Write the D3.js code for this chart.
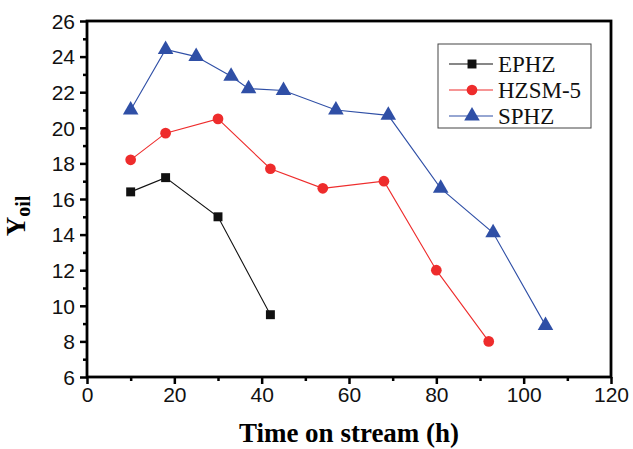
<!DOCTYPE html>
<html>
<head>
<meta charset="utf-8">
<script src="https://cdn.jsdelivr.net/npm/d3@7"></script>
<style>
  body { margin: 0; background: #fff; }
  .tick text { font-family: "Liberation Sans", Arial, sans-serif; font-size: 21px; fill: #111; }
</style>
</head>
<body>
<script>
// data
const seriesNames = ["EPHZ", "HZSM-5", "SPHZ"];
const timeEPHZ = [10, 18, 30, 42];
const yieldEPHZ = [16.4, 17.2, 15.0, 9.5];
const timeHZSM = [10, 18, 30, 42, 54, 68, 80, 92];
const yieldHZSM = [18.2, 19.7, 20.5, 17.7, 16.6, 17.0, 12.0, 8.0];
const timeSPHZ = [10, 18, 25, 33, 37, 45, 57, 69, 81, 93, 105];
const yieldSPHZ = [21.0, 24.4, 24.0, 22.9, 22.2, 22.1, 21.0, 20.7, 16.6, 14.1, 8.9];
const xTicks = [0, 20, 40, 60, 80, 100, 120];
const yTicks = [6, 8, 10, 12, 14, 16, 18, 20, 22, 24, 26];

const svgWidth = 633;
const svgHeight = 449;
const margin = { left: 87, top: 21, right: 22, bottom: 72 };
const chartWidth = svgWidth - margin.left - margin.right;
const chartHeight = svgHeight - margin.top - margin.bottom;

const svg = d3.select("body").append("svg")
    .attr("width", svgWidth)
    .attr("height", svgHeight);
const chart = svg.append("g")
    .attr("transform", `translate(${margin.left},${margin.top})`);

const xScale = d3.scaleLinear().domain([0, 120]).range([0, chartWidth]);
const yScale = d3.scaleLinear().domain([6, 26]).range([chartHeight, 0]);

// minor ticks first so majors sit on top
const xMinor = d3.range(10, 120, 20);
const yMinor = d3.range(7, 26, 2);
chart.append("g")
    .attr("transform", `translate(0,${chartHeight})`)
    .call(d3.axisBottom(xScale).tickValues(xMinor).tickSize(4).tickFormat(""))
    .call(g => g.select(".domain").remove())
    .selectAll("line").attr("stroke-width", 2.5);
chart.append("g")
    .call(d3.axisLeft(yScale).tickValues(yMinor).tickSize(4).tickFormat(""))
    .call(g => g.select(".domain").remove())
    .selectAll("line").attr("stroke-width", 2.5);

const xAxis = chart.append("g")
    .attr("transform", `translate(0,${chartHeight})`)
    .call(d3.axisBottom(xScale).tickValues(xTicks).tickSize(7).tickPadding(3));
xAxis.select(".domain").remove();
xAxis.selectAll("line").attr("stroke-width", 2.5);

const yAxis = chart.append("g")
    .call(d3.axisLeft(yScale).tickValues(yTicks).tickSize(7).tickPadding(5));
yAxis.select(".domain").remove();
yAxis.selectAll("line").attr("stroke-width", 2.5);
yAxis.selectAll("text").attr("dy", "0.35em");

// frame
chart.append("rect")
    .attr("x", 0).attr("y", 0)
    .attr("width", chartWidth).attr("height", chartHeight)
    .attr("fill", "none")
    .attr("stroke", "#000")
    .attr("stroke-width", 2.8);

const series = [
    { name: seriesNames[0], xs: timeEPHZ, ys: yieldEPHZ, color: "#111111", symbol: d3.symbolSquare, size: 80 },
    { name: seriesNames[1], xs: timeHZSM, ys: yieldHZSM, color: "#ee2c2c", symbol: d3.symbolCircle, size: 90 },
    { name: seriesNames[2], xs: timeSPHZ, ys: yieldSPHZ, color: "#2f4fa6", symbol: d3.symbolTriangle, size: 105 }
];

const line = d3.line()
    .x(d => xScale(d[0]))
    .y(d => yScale(d[1]));

series.forEach(s => {
    const pts = s.xs.map((x, i) => [x, s.ys[i]]);
    chart.append("path")
        .datum(pts)
        .attr("fill", "none")
        .attr("stroke", s.color)
        .attr("stroke-width", 1.1)
        .attr("d", line);
    chart.selectAll(null)
        .data(pts)
        .enter()
        .append("path")
        .attr("transform", d => `translate(${xScale(d[0])},${yScale(d[1])})`)
        .attr("d", d3.symbol().type(s.symbol).size(s.size))
        .attr("fill", s.color);
});

// legend
const legend = svg.append("g").attr("transform", "translate(438,44)");
legend.append("rect")
    .attr("width", 153).attr("height", 84)
    .attr("fill", "#fff")
    .attr("stroke", "#444")
    .attr("stroke-width", 1);
series.forEach((s, i) => {
    const y = 20 + i * 26;
    legend.append("line")
        .attr("x1", 11).attr("x2", 55)
        .attr("y1", y).attr("y2", y)
        .attr("stroke", s.color)
        .attr("stroke-width", 1.1);
    legend.append("path")
        .attr("transform", `translate(34,${y})`)
        .attr("d", d3.symbol().type(s.symbol).size(s.size))
        .attr("fill", s.color);
    legend.append("text")
        .attr("x", 60).attr("y", y)
        .attr("dy", "0.35em")
        .style("font-family", "'Liberation Serif', 'Times New Roman', serif")
        .style("font-size", "23px")
        .attr("fill", "#111")
        .text(s.name);
});

// axis titles
svg.append("text")
    .attr("x", margin.left + chartWidth / 2)
    .attr("y", 442)
    .attr("text-anchor", "middle")
    .style("font-family", "'Liberation Serif', 'Times New Roman', serif")
    .style("font-weight", "bold")
    .style("font-size", "27px")
    .text("Time on stream (h)");

const yTitle = svg.append("text")
    .attr("transform", "translate(25,216) rotate(-90)")
    .attr("text-anchor", "middle")
    .style("font-family", "'Liberation Serif', 'Times New Roman', serif")
    .style("font-weight", "bold")
    .style("font-size", "27px");
yTitle.append("tspan").text("Y");
yTitle.append("tspan").attr("dy", 5).style("font-size", "20px").text("oil");
</script>
</body>
</html>
